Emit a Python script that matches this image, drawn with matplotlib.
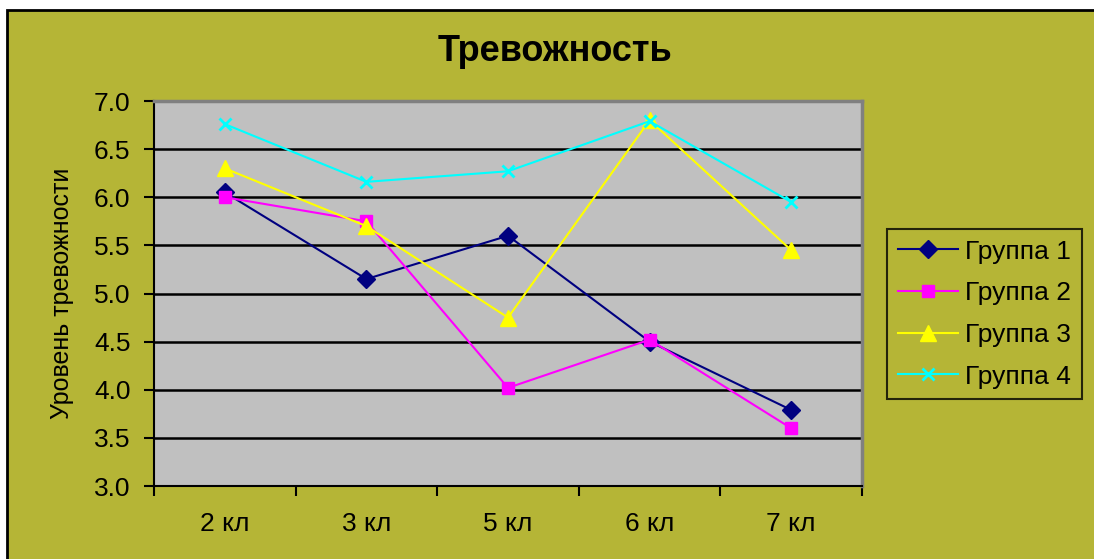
import numpy as np
import matplotlib.pyplot as plt
from matplotlib.patches import Rectangle

plt.rcParams['font.family'] = ['Liberation Sans', 'DejaVu Sans']

classes = ['2 кл', '3 кл', '5 кл', '6 кл', '7 кл']
group1 = [6.05, 5.15, 5.60, 4.50, 3.79]
group2 = [6.00, 5.75, 4.02, 4.52, 3.60]
group3 = [6.30, 5.70, 4.75, 6.80, 5.45]
group4 = [6.76, 6.16, 6.27, 6.79, 5.95]
labels = ['Группа 1', 'Группа 2', 'Группа 3', 'Группа 4']

bg = '#B5B536'
fig = plt.figure(figsize=(10.94, 5.59), dpi=100)
fig.patch.set_facecolor('white')
# olive chart area with black frame
fig.patches.append(Rectangle((7 / 1094, -0.1), 1.2, 1 - 10 / 559 + 0.1,
                             transform=fig.transFigure, facecolor=bg,
                             edgecolor='black', linewidth=2, zorder=-5))

ax = fig.add_axes([154 / 1094, 73 / 559, 708 / 1094, 385 / 559])
ax.set_zorder(2)
ax.set_facecolor('#C0C0C0')
x = np.arange(len(classes))

styles = [
    dict(color='#000080', marker='D', ms=9),
    dict(color='#FF00FF', marker='s', ms=9),
    dict(color='#FFFF00', marker='^', ms=11),
    dict(color='#00FFFF', marker='x', ms=9, mew=2),
]
for data, st, lab in zip([group1, group2, group3, group4], styles, labels):
    ax.plot(x, data, lw=1.5, label=lab, clip_on=False, **st)

ax.set_xlim(-0.5, len(classes) - 0.5)
ax.set_ylim(3.0, 7.0)
ax.set_yticks(np.arange(3.0, 7.01, 0.5))
ax.set_yticklabels([f'{v:.1f}' for v in np.arange(3.0, 7.01, 0.5)])
ax.yaxis.grid(True, color='black', lw=1.8)
ax.set_axisbelow(True)
ax.set_xticks(x)
ax.set_xticklabels(classes)
ax.set_xticks(np.arange(-0.5, len(classes)), minor=True)
ax.tick_params(axis='x', which='major', length=0, pad=19, labelsize=19)
ax.tick_params(axis='x', which='minor', length=7, width=1.5, direction='out')
ax.tick_params(axis='y', length=7, width=1.5, direction='out', labelsize=19, pad=10)

for side in ['top', 'right']:
    ax.spines[side].set_color('#808080')
    ax.spines[side].set_linewidth(2.5)
for side in ['left', 'bottom']:
    ax.spines[side].set_color('black')
    ax.spines[side].set_linewidth(1.5)

ax.set_ylabel('Уровень тревожности', fontsize=18, labelpad=14)
fig.text(555 / 1094, 1 - 52 / 559, 'Тревожность', ha='center', va='center',
         fontsize=26, fontweight='bold')

leg = ax.legend(loc='upper left', bbox_to_anchor=(887 / 1094, 1 - 229 / 559),
                bbox_transform=fig.transFigure, fontsize=19, frameon=True,
                fancybox=False, handlelength=2.3, labelspacing=0.67,
                borderpad=0.4, handletextpad=0.27, borderaxespad=0)
leg.get_frame().set_facecolor(bg)
leg.get_frame().set_edgecolor('black')
leg.get_frame().set_linewidth(1.5)

fig.savefig('out.png', dpi=100, facecolor=fig.get_facecolor())
